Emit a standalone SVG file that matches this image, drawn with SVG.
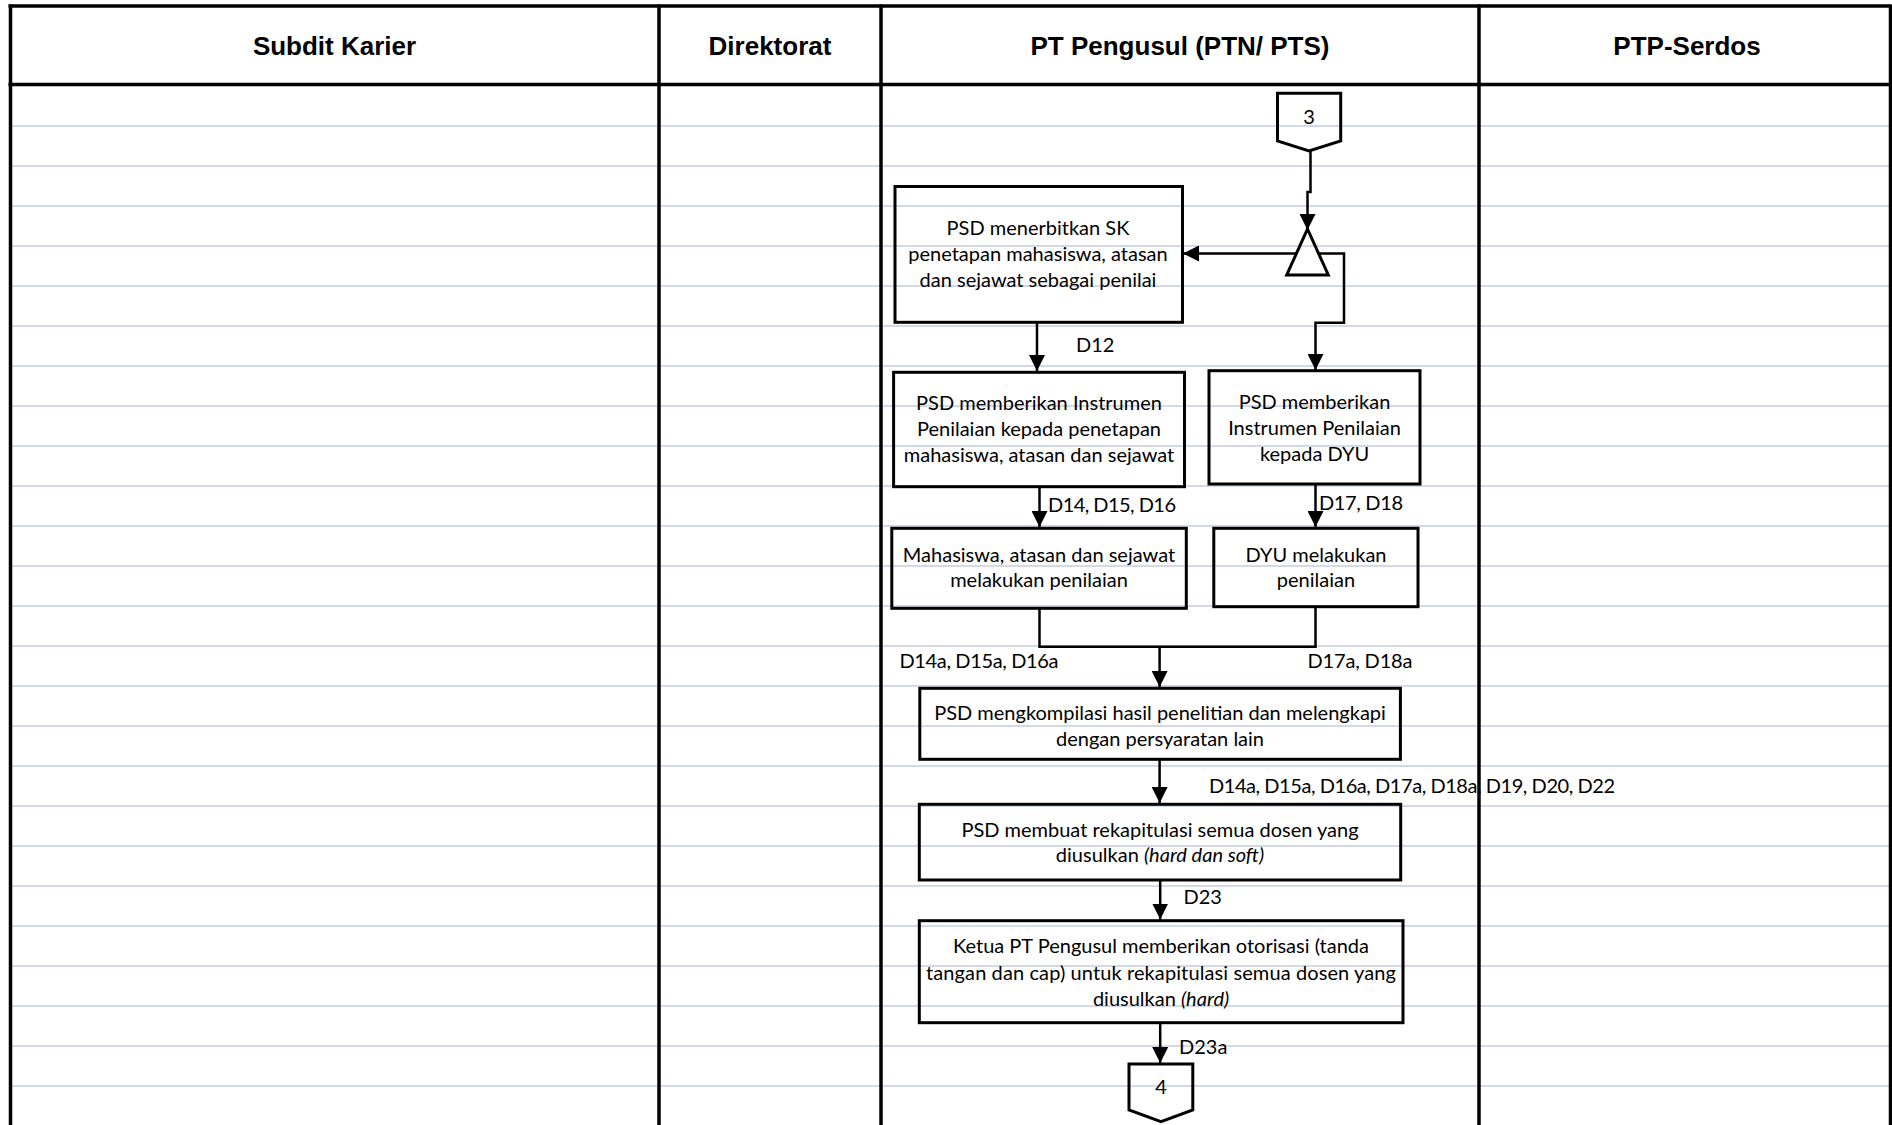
<svg xmlns="http://www.w3.org/2000/svg" width="1892" height="1125" viewBox="0 0 1892 1125">
  <defs>
    <style>
      .grid { stroke: #D3D9E6; stroke-width: 2; }
      .lane { stroke: #000; stroke-width: 3.5; fill: none; }
      .hdr { font-family: "Liberation Sans", Arial, sans-serif; font-weight: bold; font-size: 26px; text-anchor: middle; fill: #000; }
      .box { fill: none; stroke: #000; stroke-width: 3; }
      .txt { font-family: Lato, "Liberation Sans", sans-serif; font-size: 20px; text-anchor: middle; fill: #000; }
      .lbl { font-family: Lato, "Liberation Sans", sans-serif; font-size: 20px; fill: #000; }
      .conn { fill: none; stroke: #000; stroke-width: 2.5; }
      .arrow { marker-end: url(#arr); }
    </style>
    <marker id="arr" markerUnits="userSpaceOnUse" markerWidth="16" markerHeight="16" viewBox="0 0 16 16" refX="16" refY="8" orient="auto">
      <path d="M0,0 L16,8 L0,16 z" fill="#000"/>
    </marker>
  </defs>

  <rect x="0" y="0" width="1892" height="1125" fill="#fff"/>

  <!-- sheet gridlines -->
  <g id="gridlines">
    <line class="grid" x1="10" y1="126" x2="1890" y2="126"/>
    <line class="grid" x1="10" y1="166" x2="1890" y2="166"/>
    <line class="grid" x1="10" y1="206" x2="1890" y2="206"/>
    <line class="grid" x1="10" y1="246" x2="1890" y2="246"/>
    <line class="grid" x1="10" y1="286" x2="1890" y2="286"/>
    <line class="grid" x1="10" y1="326" x2="1890" y2="326"/>
    <line class="grid" x1="10" y1="366" x2="1890" y2="366"/>
    <line class="grid" x1="10" y1="406" x2="1890" y2="406"/>
    <line class="grid" x1="10" y1="446" x2="1890" y2="446"/>
    <line class="grid" x1="10" y1="486" x2="1890" y2="486"/>
    <line class="grid" x1="10" y1="526" x2="1890" y2="526"/>
    <line class="grid" x1="10" y1="566" x2="1890" y2="566"/>
    <line class="grid" x1="10" y1="606" x2="1890" y2="606"/>
    <line class="grid" x1="10" y1="646" x2="1890" y2="646"/>
    <line class="grid" x1="10" y1="686" x2="1890" y2="686"/>
    <line class="grid" x1="10" y1="726" x2="1890" y2="726"/>
    <line class="grid" x1="10" y1="766" x2="1890" y2="766"/>
    <line class="grid" x1="10" y1="806" x2="1890" y2="806"/>
    <line class="grid" x1="10" y1="846" x2="1890" y2="846"/>
    <line class="grid" x1="10" y1="886" x2="1890" y2="886"/>
    <line class="grid" x1="10" y1="926" x2="1890" y2="926"/>
    <line class="grid" x1="10" y1="966" x2="1890" y2="966"/>
    <line class="grid" x1="10" y1="1006" x2="1890" y2="1006"/>
    <line class="grid" x1="10" y1="1046" x2="1890" y2="1046"/>
    <line class="grid" x1="10" y1="1086" x2="1890" y2="1086"/>
  </g>

  <!-- swimlane frame and headers -->
  <g id="lanes">
    <line class="lane" x1="8.5" y1="6" x2="1891" y2="6" stroke-width="3"/>
    <line class="lane" x1="8.5" y1="84.5" x2="1891" y2="84.5" stroke-width="4.5"/>
    <line class="lane" x1="10.5" y1="4.5" x2="10.5" y2="1125" stroke-width="3"/>
    <line class="lane" x1="659" y1="4.5" x2="659" y2="1125"/>
    <line class="lane" x1="881" y1="4.5" x2="881" y2="1125"/>
    <line class="lane" x1="1479" y1="4.5" x2="1479" y2="1125"/>
    <line class="lane" x1="1890.5" y1="4.5" x2="1890.5" y2="1125" stroke-width="2"/>
    <text class="hdr" x="334.5" y="54.5">Subdit Karier</text>
    <text class="hdr" x="770" y="54.5">Direktorat</text>
    <text class="hdr" x="1180" y="54.5">PT Pengusul (PTN/ PTS)</text>
    <text class="hdr" x="1687" y="54.5">PTP-Serdos</text>
  </g>

  <!-- connectors -->
  <g id="connectors">
    <path class="conn arrow" d="M1310.5,151 V192 H1307.5 V230"/>
    <path class="conn arrow" d="M1296.3,253.5 H1183"/>
    <path class="conn arrow" d="M1319,253.5 H1344 V322.7 H1315.5 V370"/>
    <path class="conn arrow" d="M1037,322.5 V371"/>
    <path class="conn arrow" d="M1039.5,486.5 V527"/>
    <path class="conn arrow" d="M1315.5,484 V527"/>
    <path class="conn" d="M1039.5,608.5 V646.7 H1315.5 V606.5"/>
    <path class="conn arrow" d="M1159.6,646.7 V687"/>
    <path class="conn arrow" d="M1159.6,759.5 V803"/>
    <path class="conn arrow" d="M1160.2,880 V919.5"/>
    <path class="conn arrow" d="M1160.2,1022.7 V1063"/>
    <text class="lbl" x="1076" y="352">D12</text>
    <text class="lbl" x="1048" y="512" textLength="128" lengthAdjust="spacing">D14, D15, D16</text>
    <text class="lbl" x="1319" y="510" textLength="84" lengthAdjust="spacing">D17, D18</text>
    <text class="lbl" x="899.5" y="667.5" textLength="159" lengthAdjust="spacing">D14a, D15a, D16a</text>
    <text class="lbl" x="1307.5" y="667.5" textLength="105" lengthAdjust="spacing">D17a, D18a</text>
    <text class="lbl" x="1209" y="792.5" textLength="406" lengthAdjust="spacing">D14a, D15a, D16a, D17a, D18a, D19, D20, D22</text>
    <text class="lbl" x="1183.5" y="903.5">D23</text>
    <text class="lbl" x="1179" y="1053.5">D23a</text>
  </g>

  <!-- off-page connector 3 -->
  <g id="conn3">
    <path class="box" d="M1277.5,93.3 H1340.7 V141 L1309,151 L1277.5,141 Z"/>
    <text class="txt" x="1309" y="123.5">3</text>
  </g>

  <!-- extract / split symbol -->
  <g id="split">
    <path class="box" d="M1307.5,229 L1328.3,275 H1286.7 Z"/>
  </g>

  <g id="n1">
    <rect class="box" x="895" y="186.5" width="287.5" height="135.8"/>
    <text class="txt" x="1038" y="235">PSD menerbitkan SK</text>
    <text class="txt" x="1038" y="261">penetapan mahasiswa, atasan</text>
    <text class="txt" x="1038" y="287">dan sejawat sebagai penilai</text>
  </g>

  <g id="n2">
    <rect class="box" x="893.6" y="372.3" width="290.9" height="114.4"/>
    <text class="txt" x="1039" y="410">PSD memberikan Instrumen</text>
    <text class="txt" x="1039" y="435.5">Penilaian kepada penetapan</text>
    <text class="txt" x="1039" y="461.5">mahasiswa, atasan dan sejawat</text>
  </g>

  <g id="n3">
    <rect class="box" x="1209" y="370.7" width="211" height="113.3"/>
    <text class="txt" x="1314.5" y="409">PSD memberikan</text>
    <text class="txt" x="1314.5" y="435">Instrumen Penilaian</text>
    <text class="txt" x="1314.5" y="460.5">kepada DYU</text>
  </g>

  <g id="n4">
    <rect class="box" x="891.8" y="528.3" width="294.5" height="80"/>
    <text class="txt" x="1039" y="561.5">Mahasiswa, atasan dan sejawat</text>
    <text class="txt" x="1039" y="587">melakukan penilaian</text>
  </g>

  <g id="n5">
    <rect class="box" x="1213.8" y="528.3" width="204.2" height="78.4"/>
    <text class="txt" x="1316" y="561.5">DYU melakukan</text>
    <text class="txt" x="1316" y="587">penilaian</text>
  </g>

  <g id="n6">
    <rect class="box" x="919.8" y="688.3" width="480.6" height="71"/>
    <text class="txt" x="1160" y="720">PSD mengkompilasi hasil penelitian dan melengkapi</text>
    <text class="txt" x="1160" y="745.5">dengan persyaratan lain</text>
  </g>

  <g id="n7">
    <rect class="box" x="919.3" y="804.3" width="481.4" height="75.7"/>
    <text class="txt" x="1160" y="836.5">PSD membuat rekapitulasi semua dosen yang</text>
    <text class="txt" x="1160" y="862">diusulkan <tspan font-style="italic">(hard dan soft)</tspan></text>
  </g>

  <g id="n8">
    <rect class="box" x="919.3" y="920.7" width="483.7" height="102"/>
    <text class="txt" x="1161" y="953">Ketua PT Pengusul memberikan otorisasi (tanda</text>
    <text class="txt" x="1161" y="979.5" textLength="470" lengthAdjust="spacing">tangan dan cap) untuk rekapitulasi semua dosen yang</text>
    <text class="txt" x="1161" y="1005.5">diusulkan <tspan font-style="italic">(hard)</tspan></text>
  </g>

  <!-- off-page connector 4 -->
  <g id="conn4">
    <path class="box" d="M1129,1064 H1192.8 V1110 L1161,1121.7 L1129,1110 Z"/>
    <text class="txt" x="1161" y="1093.5">4</text>
  </g>
</svg>
